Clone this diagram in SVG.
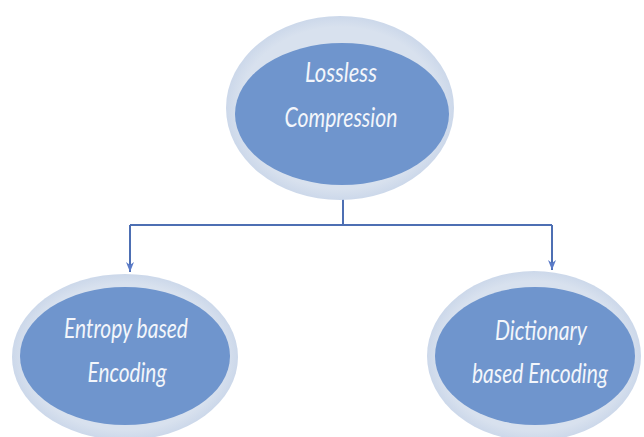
<svg xmlns="http://www.w3.org/2000/svg" width="644" height="437" viewBox="0 0 644 437">
  <defs>
    <marker id="arr" markerWidth="10" markerHeight="8" refX="10" refY="4" orient="auto" markerUnits="userSpaceOnUse" viewBox="0 0 10 8">
      <path d="M0,0 L10,4 L0,8 L3,4 Z" fill="#5a7bc8"/>
    </marker>
    <radialGradient id="ring" cx="50%" cy="50%" r="50%">
      <stop offset="88%" stop-color="#d8e1ee"/>
      <stop offset="100%" stop-color="#ccd8ea"/>
    </radialGradient>
  </defs>
  <style>
    .outer { fill: url(#ring); }
    .inner { fill: #6f95cd; }
    .lbl { font-family: Lato, "Open Sans", "Liberation Sans", sans-serif; font-style: italic; font-size: 19px; fill: #f3f6fb; text-anchor: middle; }
    .con { fill: none; stroke: #4d6fb3; stroke-width: 2; }
  </style>
  <rect width="644" height="437" fill="#ffffff"/>
  <g id="connectors">
    <path class="con" d="M343,199 V225"/>
    <path class="con" d="M130,225 H552"/>
    <path class="con" d="M130,225 V272" stroke="#5a7bc8" marker-end="url(#arr)"/>
    <path class="con" d="M552,225 V270" stroke="#5a7bc8" marker-end="url(#arr)"/>
  </g>
  <g id="lossless">
    <ellipse class="outer" cx="340" cy="108" rx="114" ry="92"/>
    <ellipse class="inner" cx="342" cy="114" rx="107" ry="71"/>
    <text class="lbl" transform="translate(341,82) scale(1,1.42)" textLength="72" lengthAdjust="spacingAndGlyphs">Lossless</text>
    <text class="lbl" transform="translate(341,127) scale(1,1.42)" textLength="113" lengthAdjust="spacingAndGlyphs">Compression</text>
  </g>
  <g id="entropy">
    <ellipse class="outer" cx="125" cy="357" rx="113" ry="83"/>
    <ellipse class="inner" cx="125" cy="356" rx="105" ry="69"/>
    <text class="lbl" transform="translate(126,338) scale(1,1.42)" textLength="124" lengthAdjust="spacingAndGlyphs">Entropy based</text>
    <text class="lbl" transform="translate(127,382) scale(1,1.42)" textLength="79" lengthAdjust="spacingAndGlyphs">Encoding</text>
  </g>
  <g id="dictionary">
    <ellipse class="outer" cx="534" cy="356" rx="107" ry="85"/>
    <ellipse class="inner" cx="535" cy="356" rx="100" ry="69"/>
    <text class="lbl" transform="translate(541,340) scale(1,1.42)" textLength="92" lengthAdjust="spacingAndGlyphs">Dictionary</text>
    <text class="lbl" transform="translate(540,383) scale(1,1.42)" textLength="136" lengthAdjust="spacingAndGlyphs">based Encoding</text>
  </g>
</svg>
